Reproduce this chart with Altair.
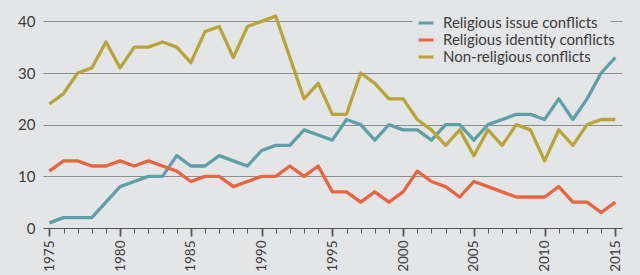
import altair as alt
import pandas as pd

# Annual number of conflicts, 1975-2015
years = list(range(1975, 2016))
religious_issue = [1, 2, 2, 2, 5, 8, 9, 10, 10, 14, 12, 12, 14, 13, 12, 15, 16, 16, 19, 18,
                   17, 21, 20, 17, 20, 19, 19, 17, 20, 20, 17, 20, 21, 22, 22, 21, 25, 21, 25, 30, 33]
religious_identity = [11, 13, 13, 12, 12, 13, 12, 13, 12, 11, 9, 10, 10, 8, 9, 10, 10, 12, 10, 12,
                      7, 7, 5, 7, 5, 7, 11, 9, 8, 6, 9, 8, 7, 6, 6, 6, 8, 5, 5, 3, 5]
non_religious = [24, 26, 30, 31, 36, 31, 35, 35, 36, 35, 32, 38, 39, 33, 39, 40, 41, 33, 25, 28,
                 22, 22, 30, 28, 25, 25, 21, 19, 16, 19, 14, 19, 16, 20, 19, 13, 19, 16, 20, 21, 21]

series_names = ["Religious issue conflicts", "Religious identity conflicts", "Non-religious conflicts"]
series_colors = ["#5f9fa7", "#e8653f", "#b8a53a"]
y_ticks = [0, 10, 20, 30, 40]

rows = []
for name, values in zip(series_names, [religious_issue, religious_identity, non_religious]):
    for year, value in zip(years, values):
        rows.append({"year": year, "series": name, "count": value})
df = pd.DataFrame(rows)

FONT = "Lato"
BG = "#e4e5e7"
TEXT = "#3c3c3c"

# the top gridline leaves a gap where the legend's first row sits
top_grid_dash = [369, 198, 12, 0]

chart = alt.Chart(df).mark_line(strokeWidth=3.3, strokeJoin="round").encode(
    x=alt.X(
        "year:Q",
        scale=alt.Scale(domain=[1974.55, 2015.47], nice=False, zero=False),
        axis=alt.Axis(
            title=None,
            values=years,
            labelExpr="datum.value % 5 === 0 ? datum.value : ''",
            labelAngle=-90,
            labelFont=FONT,
            labelFontSize=13.5,
            labelColor=TEXT,
            labelPadding=4,
            labelFlush=False,
            labelOverlap=False,
            domainColor="#555555",
            domainWidth=1.2,
            tickColor="#555555",
            tickSize={"condition": {"test": "datum.value % 5 === 0", "value": 8}, "value": 5},
            tickWidth={"condition": {"test": "datum.value % 5 === 0", "value": 1.8}, "value": 1},
            grid=False,
        ),
    ),
    y=alt.Y(
        "count:Q",
        scale=alt.Scale(domain=[0, 42], nice=False),
        axis=alt.Axis(
            title=None,
            values=y_ticks,
            labelFont=FONT,
            labelFontSize=15,
            labelColor=TEXT,
            labelPadding=8,
            domain=False,
            ticks=False,
            grid=True,
            gridColor="#8e8e8e",
            gridWidth=1,
            gridDash={"condition": {"test": "datum.value === 40", "value": top_grid_dash}, "value": []},
        ),
    ),
    color=alt.Color(
        "series:N",
        scale=alt.Scale(domain=series_names, range=series_colors),
        legend=alt.Legend(
            title=None,
            orient="none",
            legendX=374,
            legendY=3,
            padding=0,
            symbolType="stroke",
            symbolSize=225,
            symbolStrokeWidth=3,
            labelFont=FONT,
            labelFontSize=15,
            labelColor=TEXT,
            labelOffset=8,
            labelLimit=400,
            rowPadding=0,
        ),
    ),
).properties(
    width=579,
    height=217,
    background=BG,
    padding={"left": 43, "top": 11, "right": 18, "bottom": 47},
    autosize=alt.AutoSizeParams(type="none"),
).configure_view(stroke=None)

chart.save("out.html", embed_options={"renderer": "svg", "actions": False})
